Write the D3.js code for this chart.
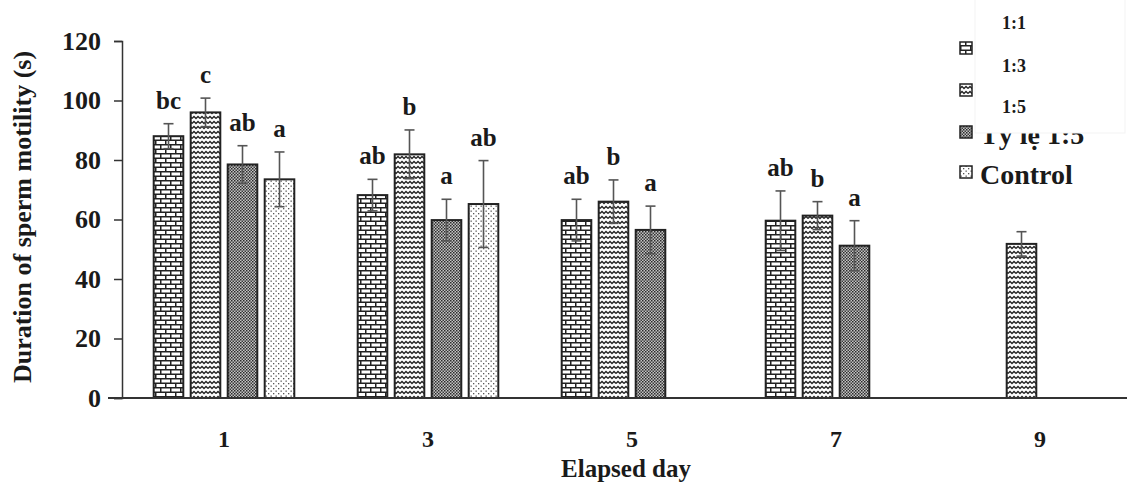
<!DOCTYPE html>
<html>
<head>
<meta charset="utf-8">
<script src="https://cdn.jsdelivr.net/npm/d3@7"></script>
<style>
  html, body { margin: 0; padding: 0; background: #fff; }
  svg { display: block; }
  text { font-family: "Liberation Serif", "Times New Roman", serif; font-weight: bold; fill: #1a1a1a; }
</style>
</head>
<body>
<svg id="chart" width="1135" height="484"></svg>
<script>
// ---- data ----
const days = ["1", "3", "5", "7", "9"];
const series = ["1:1", "1:3", "1:5", "Control"];
const val11 = [88.0, 68.2, 59.8, 59.6, null];
const val13 = [96.0, 81.9, 66.0, 61.3, 51.8];
const val15 = [78.5, 59.8, 56.5, 51.2, null];
const valCtl = [73.5, 65.2, null, null, null];
const err11 = [4.2, 5.3, 7.0, 10.0, null];
const err13 = [4.8, 8.2, 7.3, 4.7, 4.1];
const err15 = [6.3, 7.0, 8.0, 8.4, null];
const errCtl = [9.2, 14.6, null, null, null];
const let11 = ["bc", "ab", "ab", "ab", ""];
const let13 = ["c", "b", "b", "b", ""];
const let15 = ["ab", "a", "a", "a", ""];
const letCtl = ["a", "ab", "", "", ""];
const yTicks = [0, 20, 40, 60, 80, 100, 120];
const overlayLabels = ["1:1", "1:3", "1:5"];
const visibleLegend = ["Tỷ lệ 1:5", "Control"];

const values = [val11, val13, val15, valCtl];
const errs = [err11, err13, err15, errCtl];
const lets = [let11, let13, let15, letCtl];

const svg = d3.select("#chart");
const defs = svg.append("defs");
const ink = "#222";

// ---- patterns ----
// brick
const pb = defs.append("pattern").attr("id", "p0").attr("patternUnits", "userSpaceOnUse")
  .attr("width", 10).attr("height", 9);
pb.append("rect").attr("width", 10).attr("height", 9).attr("fill", "#fff");
pb.append("path").attr("d", "M0,0.75H10M0,5.25H10M0.75,0V4.5M5.75,4.5V9")
  .attr("stroke", ink).attr("stroke-width", 1.5).attr("fill", "none");
// zigzag
const pz = defs.append("pattern").attr("id", "p1").attr("patternUnits", "userSpaceOnUse")
  .attr("width", 8).attr("height", 5);
pz.append("rect").attr("width", 8).attr("height", 5).attr("fill", "#fff");
pz.append("path").attr("d", "M0,3.5L2,1.5L4,3.5L6,1.5L8,3.5")
  .attr("stroke", ink).attr("stroke-width", 1.3).attr("fill", "none");
// dark checker
const pc = defs.append("pattern").attr("id", "p2").attr("patternUnits", "userSpaceOnUse")
  .attr("width", 3).attr("height", 3);
pc.append("rect").attr("width", 3).attr("height", 3).attr("fill", "#c4c4c4");
pc.append("rect").attr("width", 1.5).attr("height", 1.5).attr("fill", "#2a2a2a");
pc.append("rect").attr("x", 1.5).attr("y", 1.5).attr("width", 1.5).attr("height", 1.5).attr("fill", "#3a3a3a");
// light dots
const pd = defs.append("pattern").attr("id", "p3").attr("patternUnits", "userSpaceOnUse")
  .attr("width", 5).attr("height", 5);
pd.append("rect").attr("width", 5).attr("height", 5).attr("fill", "#fff");
pd.append("rect").attr("x", 0.5).attr("y", 0.5).attr("width", 1.3).attr("height", 1.3).attr("fill", "#555");
pd.append("rect").attr("x", 3).attr("y", 3).attr("width", 1.3).attr("height", 1.3).attr("fill", "#555");

// ---- scales ----
const y = d3.scaleLinear().domain([0, 120]).range([398, 41]);
const x0 = d3.scaleBand().domain(days).range([122, 1142]);
const x1 = d3.scaleBand().domain(series).range([-74, 74]).paddingInner(0.2).paddingOuter(0.1);

// ---- axes ----
const yAxis = svg.append("g").attr("transform", "translate(122,0)")
  .call(d3.axisLeft(y).tickValues(yTicks).tickSize(8).tickPadding(13));
yAxis.select(".domain").attr("stroke", "#333").attr("stroke-width", 1.5);
yAxis.selectAll(".tick line").attr("stroke", "#333").attr("stroke-width", 1.5);
yAxis.selectAll(".tick text").style("font-size", "26px").attr("fill", "#1a1a1a")
  .style("font-family", "Liberation Serif, serif").style("font-weight", "bold");

const xAxis = svg.append("g").attr("transform", `translate(0,${y(0)})`)
  .call(d3.axisBottom(x0).tickSize(0).tickPadding(32));
xAxis.select(".domain").remove();
xAxis.selectAll(".tick text").style("font-size", "24px").attr("fill", "#1a1a1a")
  .style("font-family", "Liberation Serif, serif").style("font-weight", "bold");

// ---- bars ----
const flat = [];
days.forEach((d, i) => series.forEach((s, j) => {
  if (values[j][i] != null) flat.push({ day: d, s, j, v: values[j][i], e: errs[j][i], l: lets[j][i] });
}));

const g = svg.append("g");
g.selectAll("rect.bar").data(flat).join("rect").attr("class", "bar")
  .attr("x", d => x0(d.day) + x0.bandwidth() / 2 + x1(d.s))
  .attr("width", x1.bandwidth())
  .attr("y", d => y(d.v))
  .attr("height", d => y(0) - y(d.v))
  .attr("fill", d => `url(#p${d.j})`)
  .attr("stroke", ink).attr("stroke-width", 2);

const cx = d => x0(d.day) + x0.bandwidth() / 2 + x1(d.s) + x1.bandwidth() / 2;
const eg = g.selectAll("g.err").data(flat).join("g").attr("class", "err")
  .attr("stroke", "#555").attr("stroke-width", 1.6);
eg.append("line").attr("x1", cx).attr("x2", cx).attr("y1", d => y(d.v + d.e)).attr("y2", d => y(d.v - d.e));
eg.append("line").attr("x1", d => cx(d) - 5).attr("x2", d => cx(d) + 5).attr("y1", d => y(d.v + d.e)).attr("y2", d => y(d.v + d.e));
eg.append("line").attr("x1", d => cx(d) - 5).attr("x2", d => cx(d) + 5).attr("y1", d => y(d.v - d.e)).attr("y2", d => y(d.v - d.e));

g.selectAll("text.sig").data(flat.filter(d => d.l)).join("text").attr("class", "sig")
  .attr("x", cx).attr("y", d => y(d.v + d.e) - 15)
  .attr("text-anchor", "middle").style("font-size", "25px").text(d => d.l);

// x axis line
svg.append("line").attr("x1", 108).attr("x2", 1127).attr("y1", y(0)).attr("y2", y(0))
  .attr("stroke", "#333").attr("stroke-width", 2);

// ---- axis titles ----
svg.append("text").attr("x", 626).attr("y", 477).attr("text-anchor", "middle")
  .style("font-size", "25px").text("Elapsed day");
svg.append("text").attr("transform", "translate(31,217) rotate(-90)").attr("text-anchor", "middle")
  .style("font-size", "26px").text("Duration of sperm motility (s)");

// ---- legend ----
const legY = [48, 90, 132, 172];
const lg = svg.append("g");
lg.selectAll("rect").data(series).join("rect")
  .attr("x", 960).attr("y", (d, i) => legY[i] - 6).attr("width", 12).attr("height", 12)
  .attr("fill", (d, i) => `url(#p${i})`).attr("stroke", ink).attr("stroke-width", 1.5);
lg.selectAll("text").data(visibleLegend).join("text")
  .attr("x", 980).attr("y", (d, i) => legY[i + 2] + 12)
  .style("font-size", "28px").text(d => d);

// overlay box
svg.append("rect").attr("x", 975).attr("y", -2).attr("width", 150).attr("height", 135)
  .attr("fill", "#fff").attr("stroke", "#f3f3f3").attr("stroke-width", 1);
svg.selectAll("text.ov").data(overlayLabels).join("text").attr("class", "ov")
  .attr("x", 1002).attr("y", (d, i) => [29, 72, 113][i])
  .style("font-size", "18px").text(d => d);
</script>
</body>
</html>
